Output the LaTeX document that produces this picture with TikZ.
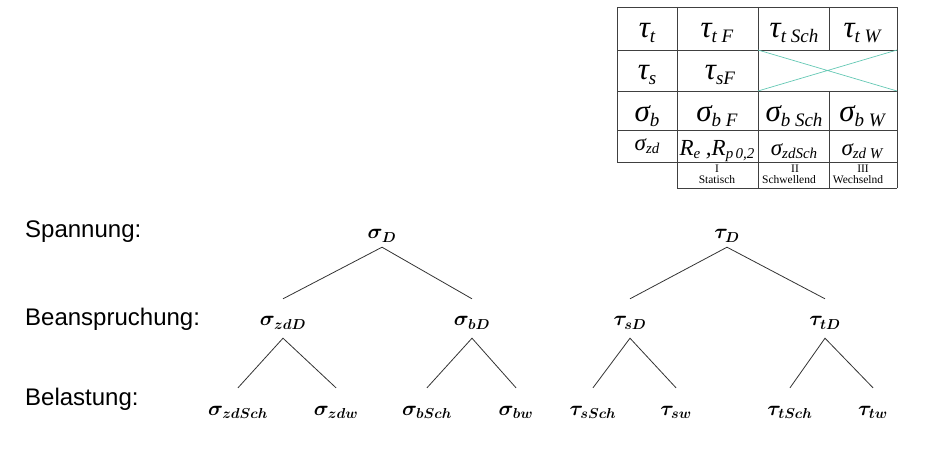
\documentclass[tikz,border=0pt]{standalone}
\usepackage{fontspec}
\setmainfont{Liberation Serif}
\newfontfamily\labelfont{Liberation Sans}
\usetikzlibrary{positioning}
\definecolor{crossline}{RGB}{100,200,180}
\newcommand{\bigsub}[1]{\raisebox{-5pt}{\fontsize{19}{19}\selectfont #1}}
\newcommand{\smallsub}[1]{\raisebox{-3pt}{\fontsize{15}{15}\selectfont #1}}

\begin{document}
\begin{tikzpicture}[x=1pt,y=-1pt,
    every node/.style={inner sep=0pt},
    stage/.style={anchor=base west,font=\labelfont\fontsize{24}{24}\selectfont},
    term/.style={anchor=base,text height=11pt,text depth=0pt,font=\fontsize{22}{22}\selectfont\boldmath},
    branch/.style={draw=black!80,line width=0.8pt},
    grid/.style={draw=black!75,line width=0.8pt},
    big/.style={anchor=base,font=\fontsize{31}{31}\selectfont\itshape},
    small/.style={anchor=base,font=\fontsize{23}{23}\selectfont\itshape},
    case/.style={anchor=north,align=center,font=\fontsize{11.5}{10.5}\selectfont}]
  \useasboundingbox (0,0) rectangle (927,465);

  %table
  \draw[grid] (617,7) rectangle (897,162.7);
  \draw[grid] (617,50) -- (897,50) (617,91) -- (897,91) (617,130) -- (897,130);
  \draw[grid] (677,7) -- (677,188) (758,7) -- (758,188) (897,162.7) -- (897,188) (677,188) -- (897,188);
  \draw[grid] (829,7) -- (829,50) (829,91) -- (829,188);
  \draw[crossline,line width=0.7pt] (758,50) -- (897,91) (758,91) -- (897,50);

  \node[big] (tt) at (647,38) {τ\bigsub{t}};
  \node[big] (ttF) at (717,38) {τ\bigsub{t F}};
  \node[big] (ttSch) at (794,38) {τ\bigsub{t Sch}};
  \node[big] (ttW) at (862,38) {τ\bigsub{t W}};
  \node[big] (ts) at (647,80) {τ\bigsub{s}};
  \node[big] (tsF) at (720,80) {τ\bigsub{sF}};
  \node[big] (sb) at (647,122) {σ\bigsub{b}};
  \node[big] (sbF) at (717,122) {σ\bigsub{b F}};
  \node[big] (sbSch) at (794,122) {σ\bigsub{b Sch}};
  \node[big] (sbW) at (862,122) {σ\bigsub{b W}};
  \node[small] (szd) at (647,151) {σ\smallsub{zd}};
  \node[small] (re) at (717,156) {R\smallsub{e} ,R\smallsub{p\,0,2}};
  \node[small] (szdSch) at (794,156) {σ\smallsub{zdSch}};
  \node[small] (szdW) at (862,156) {σ\smallsub{zd W}};
  \node[case] (stat) at (717,165) {I\\Statisch};
  \node[case] (schw) at (789,165) {\hspace*{12pt}II\\Schwellend};
  \node[case] (wech) at (858,165) {\hspace*{10pt}III\\Wechselnd};

  %levels
  \node[stage] (span) at (25,238) {Spannung:};
  \node[stage] (bean) at (25,325) {Beanspruchung:};
  \node[stage] (bel) at (25,405) {Belastung:};

  %tree
  \node[term] (sD) at (382,239) {$\sigma_D$};
  \node[term] (tD) at (727,239) {$\tau_D$};
  \node[term] (szdD) at (283,326) {$\sigma_{zdD}$};
  \node[term] (sbD) at (472,326) {$\sigma_{bD}$};
  \node[term] (tsD) at (630,326) {$\tau_{sD}$};
  \node[term] (ttD) at (825,326) {$\tau_{tD}$};
  \node[term] (szdS) at (238,415) {$\sigma_{zdSch}$};
  \node[term] (szdw) at (336,415) {$\sigma_{zdw}$};
  \node[term] (sbS) at (427,415) {$\sigma_{bSch}$};
  \node[term] (sbw) at (516,415) {$\sigma_{bw}$};
  \node[term] (tsS) at (593,415) {$\tau_{sSch}$};
  \node[term] (tsw) at (676,415) {$\tau_{sw}$};
  \node[term] (ttS) at (790,415) {$\tau_{tSch}$};
  \node[term] (ttw) at (873,415) {$\tau_{tw}$};

  \draw[branch] ([yshift=16pt]szdD.north) -- ([yshift=-8pt]sD.south) -- ([yshift=16pt]sbD.north);
  \draw[branch] ([yshift=16pt]tsD.north) -- ([yshift=-8pt]tD.south) -- ([yshift=16pt]ttD.north);
  \draw[branch] ([yshift=16pt]szdS.north) -- ([yshift=-12pt]szdD.south) -- ([yshift=16pt]szdw.north);
  \draw[branch] ([yshift=16pt]sbS.north) -- ([yshift=-12pt]sbD.south) -- ([yshift=16pt]sbw.north);
  \draw[branch] ([yshift=16pt]tsS.north) -- ([yshift=-12pt]tsD.south) -- ([yshift=16pt]tsw.north);
  \draw[branch] ([yshift=16pt]ttS.north) -- ([yshift=-12pt]ttD.south) -- ([yshift=16pt]ttw.north);
\end{tikzpicture}
\end{document}
